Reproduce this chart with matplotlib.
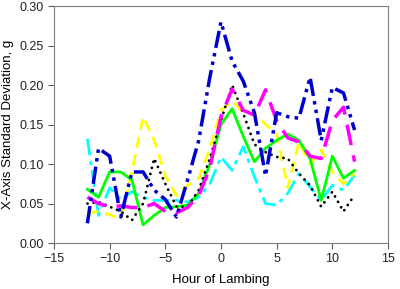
import matplotlib
matplotlib.use('Agg')
import matplotlib.pyplot as plt
import numpy as np

plt.rcParams['font.family'] = ['Liberation Sans', 'DejaVu Sans']

hours = list(range(-12, 13))

blue = [0.025, 0.12, 0.11, 0.033, 0.09, 0.09, 0.067, 0.055, 0.033, 0.08, 0.13, 0.21,
        0.28, 0.23, 0.205, 0.165, 0.085, 0.165, 0.16, 0.158, 0.21, 0.13, 0.197, 0.19, 0.143]
magenta = [0.058, 0.05, 0.046, 0.047, 0.045, 0.045, 0.05, 0.04, 0.038, 0.045, 0.06, 0.095,
           0.16, 0.195, 0.168, 0.162, 0.194, 0.155, 0.133, 0.128, 0.11, 0.107, 0.155, 0.172, 0.103]
green = [0.068, 0.058, 0.09, 0.09, 0.08, 0.023, 0.035, 0.045, 0.046, 0.048, 0.063, 0.1,
         0.15, 0.17, 0.135, 0.103, 0.12, 0.13, 0.138, 0.13, 0.107, 0.054, 0.11, 0.082, 0.092]
yellow = [0.038, 0.04, 0.036, 0.03, 0.09, 0.16, 0.13, 0.085, 0.06, 0.073, 0.082, 0.12,
          0.168, 0.18, 0.165, 0.165, 0.15, 0.138, 0.07, 0.128, 0.10, 0.118, 0.09, 0.075, 0.088]
cyan = [0.132, 0.035, 0.07, 0.055, 0.065, 0.058, 0.054, 0.054, 0.054, 0.052, 0.058, 0.075,
        0.109, 0.092, 0.122, 0.084, 0.05, 0.048, 0.063, 0.088, 0.071, 0.054, 0.073, 0.067, 0.086]
black = [0.05, 0.052, 0.046, 0.04, 0.029, 0.05, 0.107, 0.075, 0.046, 0.046, 0.067, 0.107,
         0.155, 0.2, 0.164, 0.125, 0.115, 0.109, 0.107, 0.088, 0.073, 0.046, 0.065, 0.04, 0.061]

fig = plt.figure(figsize=(4, 2.89), dpi=100)
ax = fig.add_axes([0.135, 0.159, 0.835, 0.82])

ax.plot(hours, cyan, color='#00FFFF', lw=2, ls=(0, (6, 2, 1.5, 2)))
ax.plot(hours, yellow, color='#FFFF00', lw=2, ls=(0, (4, 2.5)))
ax.plot(hours, green, color='#00FF00', lw=2, ls='-')
ax.plot(hours, black, color='black', lw=2, ls=(0, (0.05, 2.2)), dash_capstyle='round')
ax.plot(hours, magenta, color='#FF00FF', lw=2.5, ls=(0, (6, 3)))
ax.plot(hours, blue, color='#0000CC', lw=2.5, ls=(0, (5, 1.5, 1, 1.5, 1, 1.5)))

ax.set_xlim(-15, 15)
ax.set_ylim(0, 0.30)
ax.set_xticks([-15, -10, -5, 0, 5, 10, 15])
ax.set_yticks(np.arange(0, 0.31, 0.05))
ax.set_yticklabels([f'{v:.2f}' for v in np.arange(0, 0.31, 0.05)])
ax.tick_params(labelsize=9, direction='out', length=4, color='#606060', labelcolor='#222222')
for s in ax.spines.values():
    s.set_color('#808080')
ax.set_xlabel('Hour of Lambing', fontsize=9.5, labelpad=6)
ax.set_ylabel('X-Axis Standard Deviation, g', fontsize=9.5)

fig.savefig('out.png', dpi=100)
